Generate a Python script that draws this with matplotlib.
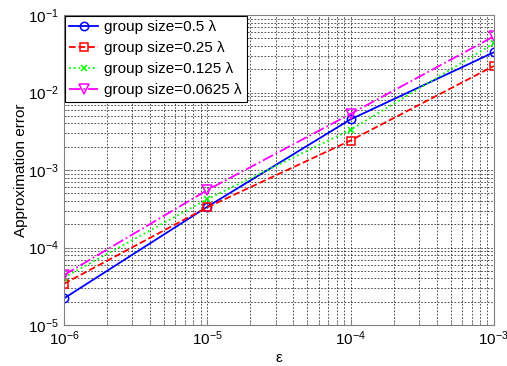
import matplotlib
matplotlib.use("Agg")
import matplotlib.pyplot as plt
from matplotlib.ticker import LogLocator, NullFormatter

plt.rcParams['font.family'] = ['Liberation Sans', 'DejaVu Sans']
plt.rcParams['mathtext.fontset'] = 'custom'
plt.rcParams['mathtext.rm'] = 'Liberation Sans'

eps = [1e-6, 1e-5, 1e-4, 1e-3]
err_05 = [2.2e-5, 3.35e-4, 4.5e-3, 3.3e-2]
err_025 = [3.4e-5, 3.3e-4, 2.4e-3, 2.2e-2]
err_0125 = [4.1e-5, 4.2e-4, 3.3e-3, 4.3e-2]
err_00625 = [4.4e-5, 5.5e-4, 5.3e-3, 5.3e-2]
labels = ["group size=0.5 λ", "group size=0.25 λ", "group size=0.125 λ", "group size=0.0625 λ"]

fig = plt.figure(figsize=(5.07, 3.66), dpi=100)
ax = fig.add_axes([0.126, 0.112, 0.848, 0.847])

ax.loglog(eps, err_05, color='#0000ff', ls='-', marker='o', mfc='none', ms=6, mew=1.1, lw=1.3, label=labels[0])
ax.loglog(eps, err_025, color='#ff0000', ls='--', marker='s', mfc='none', ms=5.5, mew=1.1, lw=1.3, label=labels[1])
ax.loglog(eps, err_0125, color='#00ff00', ls=':', marker='x', ms=5, mew=1.1, lw=1.3, label=labels[2])
ax.loglog(eps, err_00625, color='#ff00ff', ls='-.', marker='v', mfc='none', ms=7, mew=1.1, lw=1.3, label=labels[3])

ax.set_xlim(1e-6, 1e-3)
ax.set_ylim(1e-5, 1e-1)
ax.xaxis.set_major_locator(LogLocator(base=10, numticks=10))
ax.yaxis.set_major_locator(LogLocator(base=10, numticks=10))
ax.xaxis.set_minor_locator(LogLocator(base=10, subs=range(2, 10), numticks=20))
ax.yaxis.set_minor_locator(LogLocator(base=10, subs=range(2, 10), numticks=20))
ax.xaxis.set_minor_formatter(NullFormatter())
ax.yaxis.set_minor_formatter(NullFormatter())

ax.grid(True, which='both', color='black', ls=(0, (2, 2)), lw=0.6, alpha=0.8)
ax.set_axisbelow(True)
for s in ax.spines.values():
    s.set_color('#808080')
ax.tick_params(which='both', direction='in', colors='#808080', labelcolor='black', labelsize=11)
ax.tick_params(which='major', length=4)
ax.tick_params(which='minor', length=2)

ax.set_xlabel('ε', fontsize=11, labelpad=2)
ax.set_ylabel('Approximation error', fontsize=11, labelpad=0)

leg = ax.legend(loc='upper left', fontsize=11, frameon=True, fancybox=False,
                edgecolor='black', framealpha=1, borderaxespad=0.05,
                handlelength=1.9, labelspacing=0.45, borderpad=0.3, handletextpad=0.4)
leg.get_frame().set_linewidth(0.8)

fig.savefig('out.png', dpi=100)
